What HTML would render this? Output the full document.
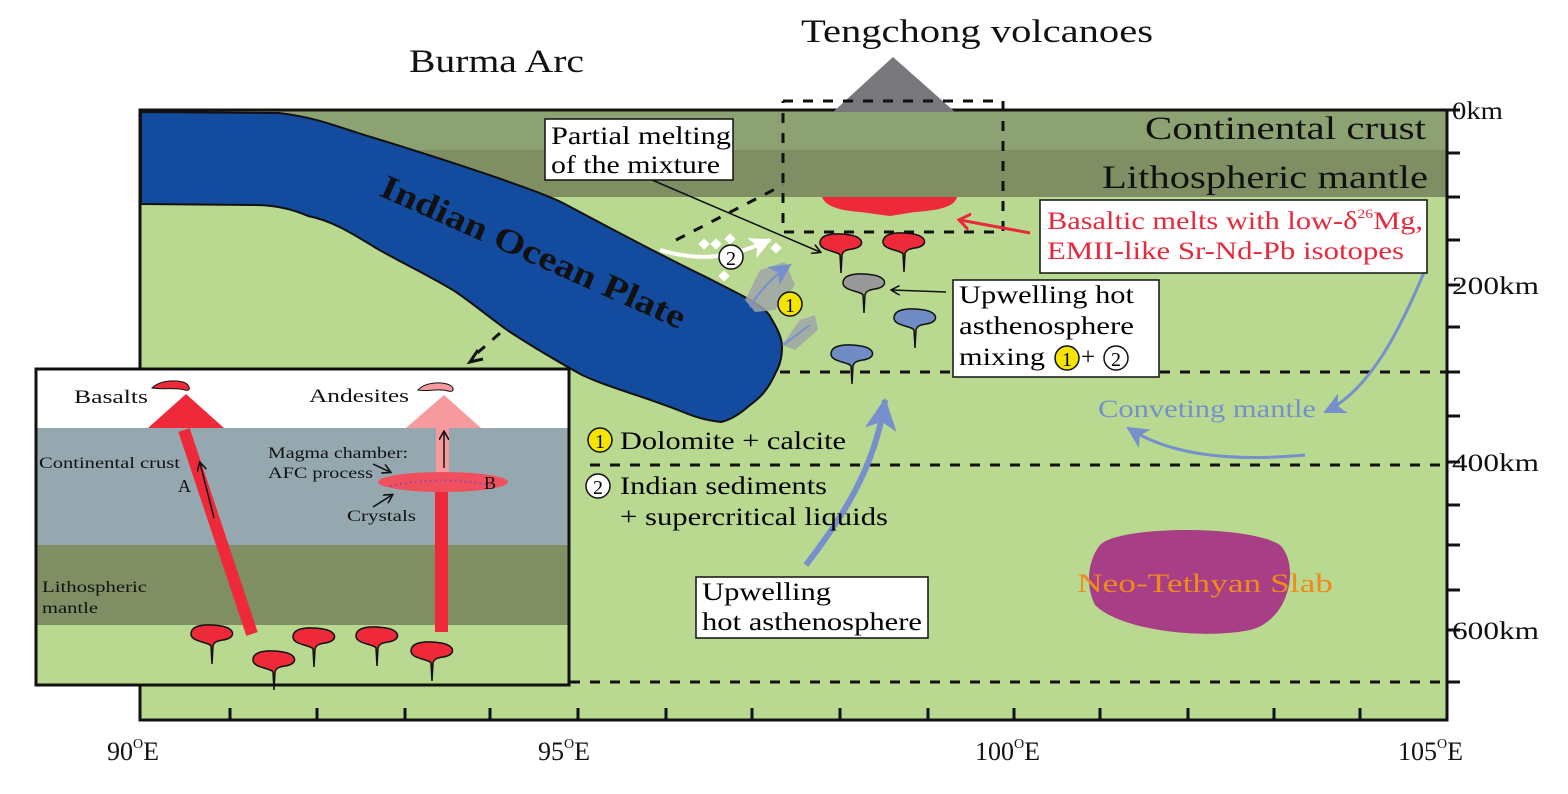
<!DOCTYPE html>
<html><head><meta charset="utf-8"><style>
html,body{margin:0;padding:0;background:#fff;}
svg{display:block;}
text{font-family:"Liberation Serif",serif;}
</style></head><body>
<svg width="1568" height="794" viewBox="0 0 1568 794" xmlns="http://www.w3.org/2000/svg">
<defs>
<marker id="ab" markerWidth="10" markerHeight="10" refX="8" refY="5" orient="auto" markerUnits="userSpaceOnUse"><path d="M0,0 L9,5 L0,10" fill="none" stroke="#111" stroke-width="1.6"/></marker>
<marker id="ar" markerWidth="20" markerHeight="20" refX="10" refY="10" orient="auto" markerUnits="userSpaceOnUse"><path d="M0,2 L11,10 L0,18" fill="none" stroke="#e8283c" stroke-width="3"/></marker>
<marker id="abl" markerWidth="26" markerHeight="26" refX="20" refY="13" orient="auto" markerUnits="userSpaceOnUse"><path d="M0,2 L22,13 L0,24 L6,13 Z" fill="#7590cc"/></marker>
<marker id="abl2" markerWidth="40" markerHeight="40" refX="30" refY="20" orient="auto" markerUnits="userSpaceOnUse"><path d="M0,4 L32,20 L0,36 L8,20 Z" fill="#7590cc"/></marker>
<marker id="aw" markerWidth="26" markerHeight="26" refX="20" refY="13" orient="auto" markerUnits="userSpaceOnUse"><path d="M0,2 L22,13 L0,24 L6,13 Z" fill="#fff"/></marker>
<g id="dropR"><path d="M-22,0 C-22,-10 -5,-10 8,-8 C22,-6 24,4 10,6 C4,7 1,8 0,12 L-1,30 L-2,12 C-4,8 -22,8 -22,0 Z" stroke="#111" stroke-width="1.5"/></g>
</defs>
<rect x="140" y="110" width="1307" height="610" fill="#b9d990" stroke="#111" stroke-width="3"/>
<rect x="141.5" y="111.5" width="1304" height="39" fill="#8da272"/>
<rect x="141.5" y="150" width="1304" height="47" fill="#7f8f63"/>
<polygon points="833,112 893,57 955,112" fill="#78777b"/>
<g stroke="#111" stroke-width="3" stroke-dasharray="10,10" fill="none">
<path d="M783,101 H1003 V232 H783 V101"/>
<path d="M676,240 L783,185"/>
<path d="M780,372 H1447"/>
<path d="M590,465 H1447"/>
<path d="M570,682 H1447"/>
<path d="M515,320 L475,355"/>
</g>
<path d="M478,350 L470,362 L483,359" fill="none" stroke="#111" stroke-width="3"/>
<path d="M822,197 H957 C955,205 945,210 915,212 L890,216 L860,212 C835,210 825,205 822,197 Z" fill="#ee2a3a"/>
<path d="M141,112 L279,113 C320,118 340,128 371,137 C420,152 460,165 498,178 C520,186 540,192 561,202 C610,228 660,255 708,278 C740,295 765,305 771,318 C778,330 782,338 782,347 C782,358 780,365 776,372 C768,390 760,398 750,405 C740,414 730,420 721,422 C705,420 695,417 683,412 C640,395 610,388 582,375 C555,360 530,345 510,332 C490,318 475,305 456,292 C430,276 400,262 376,248 C350,232 330,220 308,216 C290,208 270,205 254,205 L141,204 Z" fill="#134b9e" stroke="#111" stroke-width="2"/>
<text x="378" y="195" font-size="34" font-weight="bold" fill="#111" transform="rotate(24 378 195)" textLength="330" lengthAdjust="spacingAndGlyphs">Indian Ocean Plate</text>
<path d="M745,300 L760,270 L785,262 L795,285 L775,310 L755,312 Z" fill="#a0a4a8" opacity="0.85"/>
<path d="M782,345 L800,320 L815,315 L818,330 L795,350 Z" fill="#a0a4a8" opacity="0.85"/>
<path d="M750,307 C760,290 775,275 790,265" fill="none" stroke="#7590cc" stroke-width="2" marker-end="url(#abl)"/>
<path d="M783,345 L810,325" fill="none" stroke="#7590cc" stroke-width="2"/>
<path d="M660,250 C700,262 730,258 770,240" fill="none" stroke="#fff" stroke-width="4" marker-end="url(#aw)"/>
<g fill="#fff"><rect x="700" y="240" width="8" height="8" transform="rotate(45 704 244)"/><rect x="712" y="240" width="8" height="8" transform="rotate(45 716 244)"/><rect x="726" y="235" width="8" height="8" transform="rotate(45 730 239)"/><rect x="720" y="272" width="8" height="8" transform="rotate(45 724 276)"/><rect x="772" y="244" width="8" height="8" transform="rotate(45 776 248)"/></g>
<circle cx="731" cy="257" r="12" fill="#fff" stroke="#111" stroke-width="1.5"/><text x="731" y="265" font-size="20" text-anchor="middle">2</text>
<circle cx="790" cy="304" r="12" fill="#f5e400" stroke="#111" stroke-width="1.5"/><text x="790" y="312" font-size="20" text-anchor="middle">1</text>
<use href="#dropR" x="842" y="243" fill="#ee2a3a"/>
<use href="#dropR" x="905" y="242" fill="#ee2a3a"/>
<use href="#dropR" x="865" y="283" fill="#999"/>
<use href="#dropR" x="916" y="318" fill="#6f8cc4"/>
<use href="#dropR" x="853" y="354" fill="#6f8cc4"/>
<line x1="652" y1="180" x2="820" y2="252" stroke="#111" stroke-width="1.5" marker-end="url(#ab)"/>
<line x1="946" y1="292" x2="892" y2="290" stroke="#111" stroke-width="1.5" marker-end="url(#ab)"/>
<line x1="1030" y1="233" x2="960" y2="220" stroke="#e8283c" stroke-width="3" marker-end="url(#ar)"/>
<path d="M806,565 C840,520 875,470 885,400" fill="none" stroke="#7590cc" stroke-width="6" marker-end="url(#abl2)"/>
<path d="M1425,270 C1400,330 1370,390 1325,412" fill="none" stroke="#7590cc" stroke-width="3" marker-end="url(#abl)"/>
<path d="M1305,455 C1230,462 1170,455 1128,428" fill="none" stroke="#7590cc" stroke-width="3" marker-end="url(#abl)"/>
<path d="M1100,545 C1120,525 1250,525 1280,545 C1300,565 1290,620 1250,630 C1200,640 1120,630 1095,605 C1085,585 1088,560 1100,545 Z" fill="#a83e86"/>
<text x="1077" y="592" font-size="26" fill="#f08a1a" textLength="256" lengthAdjust="spacingAndGlyphs">Neo-Tethyan Slab</text>
<text x="1145" y="139" font-size="33" fill="#111" textLength="281" lengthAdjust="spacingAndGlyphs">Continental crust</text>
<text x="1102" y="188" font-size="33" fill="#111" textLength="326" lengthAdjust="spacingAndGlyphs">Lithospheric mantle</text>
<text x="409" y="72" font-size="33" fill="#111" textLength="175" lengthAdjust="spacingAndGlyphs">Burma Arc</text>
<text x="801" y="42" font-size="33" fill="#111" textLength="352" lengthAdjust="spacingAndGlyphs">Tengchong volcanoes</text>
<rect x="545" y="119" width="188" height="61" fill="#fff" stroke="#111" stroke-width="1.5"/>
<text x="551" y="144" font-size="25" textLength="180" lengthAdjust="spacingAndGlyphs">Partial melting</text>
<text x="551" y="173" font-size="25" textLength="169" lengthAdjust="spacingAndGlyphs">of the mixture</text>
<rect x="1040" y="200" width="387" height="73" fill="#fff" stroke="#111" stroke-width="1.5"/>
<text x="1047" y="229" font-size="25" fill="#e8283c" textLength="376" lengthAdjust="spacingAndGlyphs">Basaltic melts with low-δ<tspan font-size="13" dy="-11">26</tspan><tspan dy="11">Mg,</tspan></text>
<text x="1047" y="259" font-size="25" fill="#e8283c" textLength="357" lengthAdjust="spacingAndGlyphs">EMII-like Sr-Nd-Pb isotopes</text>
<rect x="953" y="280" width="206" height="97" fill="#fff" stroke="#111" stroke-width="1.5"/>
<text x="959" y="303" font-size="25" textLength="175" lengthAdjust="spacingAndGlyphs">Upwelling hot</text>
<text x="959" y="334" font-size="25" textLength="175" lengthAdjust="spacingAndGlyphs">asthenosphere</text>
<text x="959" y="365" font-size="25" textLength="86" lengthAdjust="spacingAndGlyphs">mixing</text>
<circle cx="1067" cy="358" r="12" fill="#f5e400" stroke="#111" stroke-width="1.5"/><text x="1067" y="366" font-size="20" text-anchor="middle">1</text>
<text x="1081" y="365" font-size="25">+</text>
<circle cx="1116" cy="358" r="12" fill="#fff" stroke="#111" stroke-width="1.5"/><text x="1116" y="366" font-size="20" text-anchor="middle">2</text>
<text x="1098" y="417" font-size="25" fill="#7590cc" textLength="218" lengthAdjust="spacingAndGlyphs">Conveting mantle</text>
<circle cx="600" cy="440" r="12" fill="#f5e400" stroke="#111" stroke-width="1.5"/><text x="600" y="448" font-size="20" text-anchor="middle">1</text>
<text x="620" y="449" font-size="25" textLength="226" lengthAdjust="spacingAndGlyphs">Dolomite + calcite</text>
<circle cx="598" cy="486" r="12" fill="#fff" stroke="#111" stroke-width="1.5"/><text x="598" y="494" font-size="20" text-anchor="middle">2</text>
<text x="620" y="494" font-size="25" textLength="207" lengthAdjust="spacingAndGlyphs">Indian sediments</text>
<text x="620" y="525" font-size="25" textLength="268" lengthAdjust="spacingAndGlyphs">+ supercritical liquids</text>
<rect x="696" y="577" width="232" height="61" fill="#fff" stroke="#111" stroke-width="1.5"/>
<text x="702" y="600" font-size="25" textLength="129" lengthAdjust="spacingAndGlyphs">Upwelling</text>
<text x="702" y="630" font-size="25" textLength="220" lengthAdjust="spacingAndGlyphs">hot asthenosphere</text>
<g stroke="#111" stroke-width="3">
<line x1="1447" y1="110" x2="1460" y2="110"/><line x1="1447" y1="153" x2="1460" y2="153"/><line x1="1447" y1="197" x2="1460" y2="197"/><line x1="1447" y1="240" x2="1460" y2="240"/><line x1="1447" y1="285" x2="1460" y2="285"/><line x1="1447" y1="327" x2="1460" y2="327"/><line x1="1447" y1="372" x2="1460" y2="372"/><line x1="1447" y1="416" x2="1460" y2="416"/><line x1="1447" y1="462" x2="1460" y2="462"/><line x1="1447" y1="505" x2="1460" y2="505"/><line x1="1447" y1="545" x2="1460" y2="545"/><line x1="1447" y1="590" x2="1460" y2="590"/><line x1="1447" y1="630" x2="1460" y2="630"/><line x1="1447" y1="682" x2="1460" y2="682"/>
</g>
<g font-size="25" fill="#111">
<text x="1452" y="119" textLength="51" lengthAdjust="spacingAndGlyphs">0km</text><text x="1452" y="294" textLength="87" lengthAdjust="spacingAndGlyphs">200km</text><text x="1452" y="471" textLength="87" lengthAdjust="spacingAndGlyphs">400km</text><text x="1452" y="639" textLength="87" lengthAdjust="spacingAndGlyphs">600km</text>
</g>
<g stroke="#111" stroke-width="3">
<line x1="230" y1="720" x2="230" y2="708"/><line x1="317" y1="720" x2="317" y2="708"/><line x1="405" y1="720" x2="405" y2="708"/><line x1="490" y1="720" x2="490" y2="708"/><line x1="578" y1="720" x2="578" y2="708"/><line x1="666" y1="720" x2="666" y2="708"/><line x1="752" y1="720" x2="752" y2="708"/><line x1="840" y1="720" x2="840" y2="708"/><line x1="928" y1="720" x2="928" y2="708"/><line x1="1014" y1="720" x2="1014" y2="708"/><line x1="1100" y1="720" x2="1100" y2="708"/><line x1="1188" y1="720" x2="1188" y2="708"/><line x1="1274" y1="720" x2="1274" y2="708"/><line x1="1360" y1="720" x2="1360" y2="708"/>
</g>
<g font-size="26" fill="#111">
<text x="107" y="760">90<tspan font-size="14" dy="-12">O</tspan><tspan dy="12">E</tspan></text>
<text x="538" y="760">95<tspan font-size="14" dy="-12">O</tspan><tspan dy="12">E</tspan></text>
<text x="975" y="760">100<tspan font-size="14" dy="-12">O</tspan><tspan dy="12">E</tspan></text>
<text x="1398" y="760">105<tspan font-size="14" dy="-12">O</tspan><tspan dy="12">E</tspan></text>
</g>
<rect x="36" y="369" width="533" height="316" fill="#fff"/>
<rect x="36" y="428" width="533" height="117" fill="#95a8b0"/>
<rect x="36" y="545" width="533" height="80" fill="#7f8f63"/>
<rect x="36" y="625" width="533" height="60" fill="#b9d990"/>
<polygon points="148,428 186,394 224,428" fill="#ee2a3a"/>
<polygon points="406,428 444,395 481,428" fill="#f79a9e"/>
<rect x="436" y="428" width="13" height="45" fill="#f79a9e"/>
<rect x="435" y="488" width="13" height="144" fill="#ee2a3a"/>
<line x1="184" y1="430" x2="252" y2="634" stroke="#ee2a3a" stroke-width="12"/>
<ellipse cx="443" cy="482" rx="65" ry="10" fill="#f0505e"/>
<path d="M390,486 Q443,475 495,486" stroke="#a04a9a" stroke-width="2" fill="none" stroke-dasharray="2,3"/>
<path d="M152,388 C160,380 175,380 183,382 C190,384 192,392 185,390 C175,387 165,390 152,388 Z" fill="#ee2a3a" stroke="#111" stroke-width="1"/>
<path d="M418,390 C425,382 440,382 447,384 C455,386 455,393 448,391 C438,388 428,392 418,390 Z" fill="#f79a9e" stroke="#111" stroke-width="1"/>
<line x1="214" y1="518" x2="200" y2="463" stroke="#111" stroke-width="1.5" marker-end="url(#ab)"/>
<line x1="444" y1="468" x2="444" y2="432" stroke="#111" stroke-width="1.5" marker-end="url(#ab)"/>
<line x1="373" y1="464" x2="390" y2="472" stroke="#111" stroke-width="1.5" marker-end="url(#ab)"/>
<line x1="373" y1="507" x2="392" y2="495" stroke="#111" stroke-width="1.5" marker-end="url(#ab)"/>
<g font-size="19" fill="#111">
<text x="74" y="403" textLength="74" lengthAdjust="spacingAndGlyphs">Basalts</text>
<text x="309" y="402" textLength="100" lengthAdjust="spacingAndGlyphs">Andesites</text>
<text x="39" y="468" font-size="16" textLength="141" lengthAdjust="spacingAndGlyphs">Continental crust</text>
<text x="268" y="458" font-size="16" textLength="140" lengthAdjust="spacingAndGlyphs">Magma chamber:</text>
<text x="268" y="478" font-size="16" textLength="105" lengthAdjust="spacingAndGlyphs">AFC process</text>
<text x="347" y="521" font-size="16" textLength="69" lengthAdjust="spacingAndGlyphs">Crystals</text>
<text x="178" y="492" font-size="18">A</text>
<text x="484" y="489" font-size="18">B</text>
<text x="42" y="592" font-size="16" textLength="105" lengthAdjust="spacingAndGlyphs">Lithospheric</text>
<text x="42" y="613" font-size="16" textLength="56" lengthAdjust="spacingAndGlyphs">mantle</text>
</g>
<use href="#dropR" x="213" y="634" fill="#ee2a3a"/>
<use href="#dropR" x="275" y="660" fill="#ee2a3a"/>
<use href="#dropR" x="315" y="637" fill="#ee2a3a"/>
<use href="#dropR" x="378" y="636" fill="#ee2a3a"/>
<use href="#dropR" x="433" y="651" fill="#ee2a3a"/>
<rect x="36" y="369" width="533" height="316" fill="none" stroke="#111" stroke-width="3"/>
</svg>
</body></html>
